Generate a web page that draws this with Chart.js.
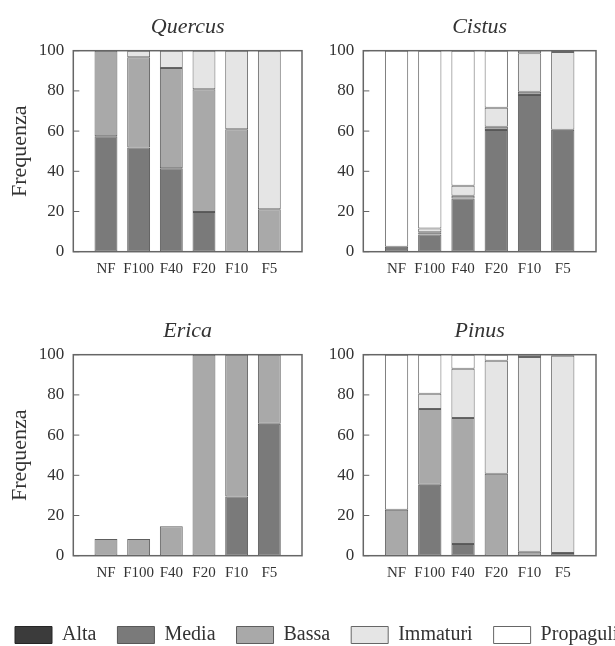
<!DOCTYPE html>
<html><head><meta charset="utf-8">
<script src="https://cdn.jsdelivr.net/npm/chart.js@4.4.1/dist/chart.umd.min.js"></script>
<style>
html,body{margin:0;padding:0;background:#fff;overflow:hidden;width:615px;height:646px;position:relative;}
canvas{position:absolute;}
</style></head><body>
<canvas id="c0" width="310" height="290" style="left:0;top:0"></canvas>
<canvas id="c1" width="305" height="290" style="left:310px;top:0"></canvas>
<canvas id="c2" width="310" height="290" style="left:0;top:304px"></canvas>
<canvas id="c3" width="305" height="290" style="left:310px;top:304px"></canvas>
<canvas id="lg" width="700" height="160" style="left:-6px;top:604.2px"></canvas>
<script>
// ---- data ----
const categories = ['NF','F100','F40','F20','F10','F5'];
const seriesNames = ['Alta','Media','Bassa','Immaturi','Propaguli'];
const yTicks = [0,20,40,60,80,100];

const quercusAlta      = [0,0,0,0,0,0];
const quercusMedia     = [57.5,51.9,41.5,19.7,0,0];
const quercusBassa     = [42.5,44.9,49.9,61.1,60.9,21.1];
const quercusImmaturi  = [0,3.2,8.6,19.2,39.1,78.9];
const quercusPropaguli = [0,0,0,0,0,0];

const cistusAlta      = [0,0,0,0,0,0];
const cistusMedia     = [2.5,8.5,26.5,60.5,77.9,60.7];
const cistusBassa     = [0,1.2,1.3,1.7,1.7,0];
const cistusImmaturi  = [0,1.8,5.0,9.4,19.1,38.7];
const cistusPropaguli = [97.5,88.5,67.2,28.4,1.3,0.6];

const ericaAlta      = [0,0,0,0,0,0];
const ericaMedia     = [0,0,0,0,29.5,65.7];
const ericaBassa     = [8.3,8.3,14.6,100,70.5,34.3];
const ericaImmaturi  = [0,0,0,0,0,0];
const ericaPropaguli = [0,0,0,0,0,0];

const pinusAlta      = [0,0,0,0,0,0];
const pinusMedia     = [0,35.3,5.8,0,0,1.3];
const pinusBassa     = [22.9,37.7,62.7,40.8,2.0,0];
const pinusImmaturi  = [0,7.6,24.5,56.2,96.8,98.2];
const pinusPropaguli = [77.1,19.4,7.0,3.0,1.2,0.5];

// ---- styles ----
const FONT = 'Liberation Serif';
const TXT = '#333333';
const fills = ['#3b3b3b','#7a7a7a','#a9a9a9','#e5e5e5','#ffffff'];
const borders = ['#262626','#585858','#5e5e5e','#666666','#666666'];

const framePlugin = {
  id:'frame',
  afterDatasetsDraw(chart){
    const {ctx, chartArea:a} = chart;
    const y = chart.scales.y;
    ctx.save();
    ctx.strokeStyle = '#666666';
    ctx.lineWidth = 1.5;
    ctx.strokeRect(a.left, a.top, a.right-a.left, a.bottom-a.top);
    ctx.lineWidth = 1;
    y.ticks.forEach(t=>{
      const py = y.getPixelForValue(t.value);
      ctx.beginPath(); ctx.moveTo(a.left, py); ctx.lineTo(a.left+6, py); ctx.stroke();
    });
    ctx.restore();
  }
};

function makePanel(id, name, series, showYTitle, yW, padRight){
  const labels = ['', ...categories, ''];
  const datasets = series.map((arr,i)=>({
    label: seriesNames[i],
    data: [null, ...arr, null],
    backgroundColor: fills[i],
    borderColor: borders[i],
    borderWidth: 1,
    borderSkipped: false,
    barPercentage: 0.7,
    categoryPercentage: 1.0
  }));
  new Chart(document.getElementById(id), {
    type:'bar',
    data:{labels, datasets},
    plugins:[framePlugin],
    options:{
      responsive:false, animation:false,
      layout:{padding:{left:0,right:padRight,top:0,bottom:0}},
      plugins:{
        legend:{display:false}, tooltip:{enabled:false},
        title:{display:true, text:name, fullSize:false, color:TXT,
          font:{family:FONT,size:22,style:'italic',weight:'normal'},
          padding:{top:14.3,bottom:10}}
      },
      scales:{
        x:{stacked:true, offset:false,
          grid:{display:false, drawTicks:false}, border:{display:false},
          ticks:{autoSkip:false, maxRotation:0, color:TXT, padding:8, font:{family:FONT,size:15}},
          afterFit(s){ s.height = 38.3; }
        },
        y:{stacked:true, min:0, max:100,
          grid:{display:false, drawTicks:false}, border:{display:false},
          afterBuildTicks(s){ s.ticks = yTicks.map(v=>({value:v})); },
          ticks:{color:TXT, padding:9, font:{family:FONT,size:17}},
          title:{display:showYTitle, text:'Frequenza', color:TXT, font:{family:FONT,size:22}, padding:{top:7,bottom:0}},
          afterFit(s){ s.width = yW; }
        }
      }
    }
  });
}

makePanel('c0','Quercus',[quercusAlta,quercusMedia,quercusBassa,quercusImmaturi,quercusPropaguli],true,73.3,4);
makePanel('c1','Cistus',[cistusAlta,cistusMedia,cistusBassa,cistusImmaturi,cistusPropaguli],false,53.3,19);
makePanel('c2','Erica',[ericaAlta,ericaMedia,ericaBassa,ericaImmaturi,ericaPropaguli],true,73.3,4);
makePanel('c3','Pinus',[pinusAlta,pinusMedia,pinusBassa,pinusImmaturi,pinusPropaguli],false,53.3,19);

// ---- shared legend ----
new Chart(document.getElementById('lg'), {
  type:'bar',
  data:{labels:['x'], datasets: seriesNames.map((n,i)=>({label:n, data:[null], backgroundColor:fills[i], borderColor:borders[i], borderWidth:1}))},
  options:{
    responsive:false, animation:false,
    layout:{padding:0},
    scales:{x:{display:false}, y:{display:false}},
    plugins:{
      tooltip:{enabled:false},
      legend:{display:true, position:'top', align:'start',
        labels:{boxWidth:37, boxHeight:17, padding:21, color:TXT, font:{family:FONT,size:20}}}
    }
  }
});
</script>
</body></html>
